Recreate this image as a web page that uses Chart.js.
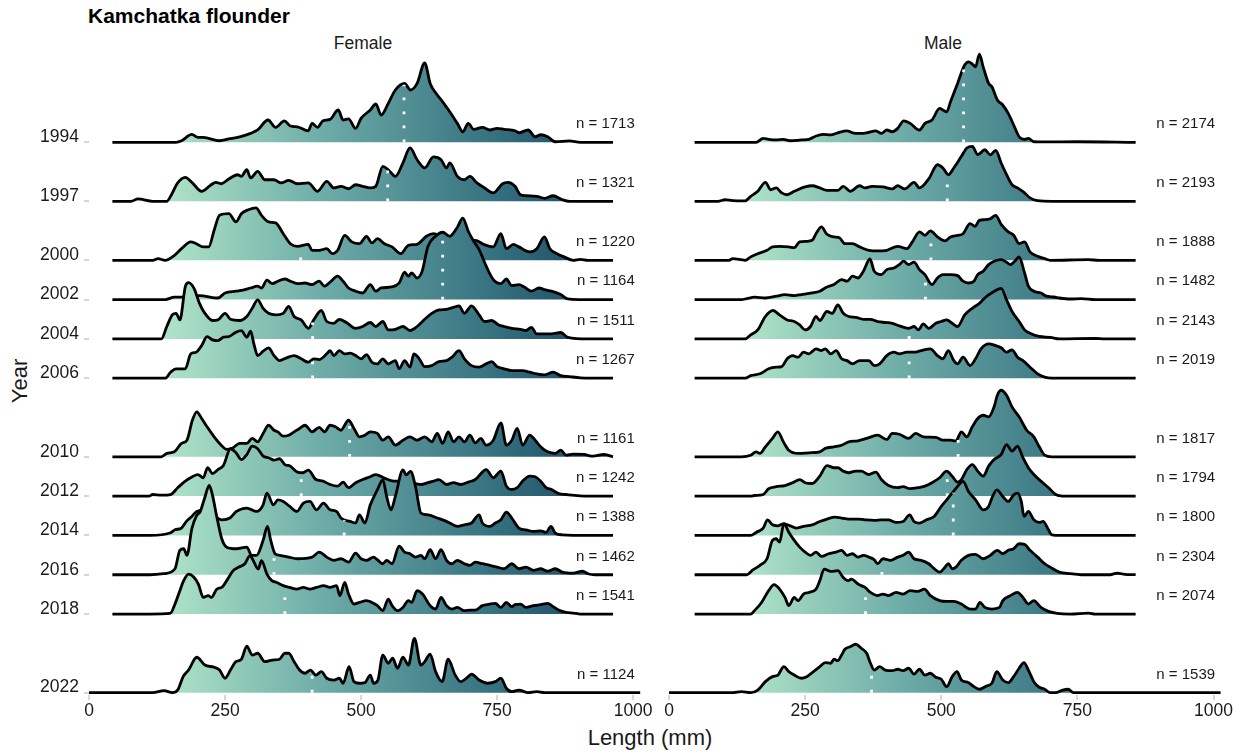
<!DOCTYPE html>
<html lang="en">
<head>
<meta charset="UTF-8" />
<title>Kamchatka flounder — length by year</title>
<script src="https://cdn.jsdelivr.net/npm/chart.js"></script>
<style>
  html, body { margin: 0; padding: 0; background: #fff; }
  body { width: 1243px; height: 755px; position: relative; overflow: hidden;
         font-family: "Liberation Sans", Arial, sans-serif; color: #000; }
  canvas { position: absolute; left: 0; top: 0; }
  .lbl { position: absolute; white-space: nowrap; line-height: 1; }
  #title { left: 88px; top: 5px; font-size: 21px; font-weight: bold; }
  .strip { top: 35px; font-size: 17.5px; color: #1a1a1a; transform: translateX(-50%); }
  #xTitle { left: 650px; top: 727px; font-size: 22px; color: #1a1a1a; transform: translateX(-50%); }
  #yTitle { left: 20px; top: 381px; font-size: 22px; color: #1a1a1a; transform: translate(-50%, -50%) rotate(-90deg); }
</style>
</head>
<body>
<div class="lbl" id="title">Kamchatka flounder</div>
<div class="lbl strip" style="left:363px">Female</div>
<div class="lbl strip" style="left:943px">Male</div>
<div class="lbl" id="xTitle">Length (mm)</div>
<div class="lbl" id="yTitle">Year</div>
<canvas id="femaleChart" width="1243" height="755"></canvas>
<canvas id="maleChart" width="1243" height="755"></canvas>
<script>
// survey years, one ridge per year (top to bottom)
const years = [1994, 1997, 2000, 2002, 2004, 2006, 2010, 2012, 2014, 2016, 2018, 2022];
const lengthTicks = [0, 250, 500, 750, 1000];

// fish measured per year
const femaleN = [1713, 1321, 1220, 1164, 1511, 1267, 1161, 1242, 1388, 1462, 1541, 1124];
const maleN   = [2174, 2193, 1888, 1482, 2143, 2019, 1817, 1794, 1800, 2304, 2074, 1539];

// median length (mm) per year
const femaleMedian = [579, 549, 389, 650, 411, 411, 479, 390, 469, 340, 360, 410];
const maleMedian   = [541, 511, 481, 471, 441, 441, 531, 511, 522, 391, 361, 372];

// length-frequency density curves: [length mm, relative density]
const female1994 = [[43,0],[160,0],[170,0.8],[189,4],[200,2.5],[210,2.5],[240,0.8],[257,1.7],[277,2.8],[297,4.5],[310,6.2],[329,11.2],[343,7.5],[359,10.8],[370,8.2],[383,7.8],[403,5.8],[410,9.5],[420,7.5],[430,10.8],[443,11.5],[458,16.2],[467,11.2],[477,11.8],[490,7],[500,12],[517,16.2],[527,19.2],[537,13.7],[550,19.5],[563,26.2],[580,29.5],[591,26.2],[603,29.5],[617,39.8],[627,29.5],[637,24.8],[650,20.3],[663,15.3],[677,9.5],[687,5.3],[697,9.5],[707,6.5],[723,7.5],[737,6.2],[750,7],[763,6.5],[783,5.8],[790,4.8],[807,6.2],[820,2.8],[830,3.8],[843,2.8],[857,0.3],[883,0.7],[903,0],[963,0]];
const female1997 = [[43,0],[77,0],[90,1.2],[117,0],[143,0],[150,2.5],[163,9.2],[177,12],[190,9.2],[207,5],[223,8],[233,9.5],[243,8.8],[257,11.2],[273,13.3],[280,12.5],[290,15.8],[297,11.7],[310,15],[323,10.8],[340,10.8],[353,9.2],[367,10.5],[383,8.8],[403,9.2],[420,5],[437,10],[450,6.7],[463,7.5],[477,6.3],[490,8.3],[503,7.5],[517,6.7],[527,7.5],[540,17.5],[550,15.8],[563,12.5],[577,19.2],[590,26.7],[603,20.8],[617,16.7],[633,22.2],[647,20.8],[657,16.7],[663,19.2],[677,12.5],[690,10.8],[700,12.5],[713,9.2],[727,6.7],[743,4.2],[760,8.8],[770,9.5],[783,7.5],[793,3.3],[803,2.8],[823,2.5],[837,1.5],[853,2.8],[870,0.8],[883,0],[963,0]];
const female2000 = [[43,0],[117,0],[127,0.8],[140,0],[157,2.5],[170,5.8],[187,9.2],[197,8.3],[210,6.7],[220,6.7],[230,15],[240,22.5],[257,23.3],[270,19.2],[280,23.3],[293,25.3],[307,26.2],[317,22.5],[330,19.2],[343,18.7],[357,13.3],[370,8.3],[383,7],[403,8],[410,5],[423,5],[437,5.8],[447,3.3],[457,5],[470,12.5],[483,9.2],[497,8.3],[510,12],[520,8.7],[530,10.8],[543,8.3],[557,6.7],[573,3.3],[587,7.5],[603,8],[620,12],[633,13.3],[650,12],[670,11],[690,10],[710,10],[725,8],[743,6.7],[757,13.3],[767,5.8],[780,8],[790,6.7],[810,4.2],[823,5.8],[837,11.7],[847,5.8],[860,3.3],[873,1.7],[890,0],[903,0.5],[917,0],[963,0]];
const female2002 = [[43,0],[140,0],[157,1.2],[170,1.2],[183,1.3],[203,2],[237,0.8],[250,3.3],[270,4.2],[283,4.7],[297,5.8],[310,6.7],[317,5.8],[327,9.7],[337,8],[347,9.2],[360,10.3],[370,9.2],[383,8],[397,8.3],[410,7.5],[423,9.2],[433,6.7],[443,8.7],[457,11.7],[467,9.2],[477,5.8],[490,4.2],[503,3.3],[517,7.5],[527,4.2],[537,5.8],[557,6.3],[570,8.3],[580,13.7],[587,11.7],[593,13.3],[603,10.8],[612,14],[623,26.7],[637,31.7],[650,33.7],[663,31.7],[677,36.2],[687,40.8],[697,34.2],[707,29.2],[717,25],[730,16.7],[743,10],[757,8],[767,10.3],[777,7],[790,7.5],[800,6.3],[813,4.2],[827,5.8],[837,5],[850,4.2],[867,2.5],[880,0.3],[900,0],[963,0]];
const female2004 = [[43,0],[133,0],[143,6.2],[153,12],[160,12.8],[167,9.5],[177,26.2],[183,28.2],[193,25.3],[203,17.8],[213,12.8],[227,9.2],[237,9.5],[250,12.8],[260,9.8],[277,9.2],[290,11.2],[300,15.3],[310,19.5],[320,15.3],[330,12.8],[343,12],[357,12.8],[367,16.2],[377,11.2],[390,9.5],[403,5.3],[413,9.5],[427,14.2],[437,8.7],[450,7.8],[460,9.8],[473,8.2],[490,5.3],[503,6.2],[517,8.2],[527,6.2],[540,8.7],[550,4.5],[563,4.8],[577,6.2],[590,4.2],[603,6.2],[617,9.8],[630,12.8],[643,14.5],[657,14.8],[670,15.8],[680,16.5],[690,12.8],[703,16.5],[717,12],[727,8.7],[740,9.2],[753,7],[763,6.2],[777,5.3],[793,4.8],[803,4.2],[813,5.8],[823,2.5],[837,2.5],[850,2.5],[867,3.2],[880,0.8],[917,0],[963,0]];
const female2006 = [[43,0],[140,0],[150,3],[160,4.7],[177,4.7],[187,12.2],[197,13],[207,16.3],[217,20.8],[227,19.2],[237,18.8],[247,20.5],[257,20.8],[270,23],[280,23.8],[290,20.5],[297,23.5],[303,17.2],[310,11.3],[320,13.5],[330,15.2],[340,11.3],[350,8.8],[363,10.2],[377,11.3],[390,9.7],[403,8],[413,9.7],[423,9.3],[437,12.2],[443,13.8],[450,11.3],[460,13.8],[470,12.2],[480,12.5],[490,11.3],[500,9.7],[510,11.8],[520,8],[530,7.2],[540,9.7],[550,7.2],[563,8.8],[570,4.7],[580,8.8],[590,5.5],[597,12.2],[607,9.7],[617,5.8],[630,6.3],[643,8.3],[657,8.8],[667,10.5],[680,13.8],[690,9.7],[703,6.3],[717,5.5],[730,7.2],[740,8.3],[750,5.8],[763,4.7],[777,3.8],[797,3.8],[810,3],[823,2.2],[837,1.7],[853,3],[867,1.3],[883,0.8],[903,0.2],[920,0],[963,0]];
const female2010 = [[43,0],[133,0],[143,1.7],[157,2.5],[170,6.7],[180,8.3],[190,18.3],[198,22.5],[207,19.2],[217,15],[230,10],[243,5.8],[253,3.7],[263,4.2],[277,6.7],[290,6.7],[300,9.2],[310,7.5],[320,11.7],[330,15.8],[340,13.3],[347,12.5],[357,10.3],[367,10.8],[377,12.5],[387,14.2],[397,15.8],[410,12.5],[423,14.7],[433,12.5],[443,15.8],[453,15],[463,13.3],[477,18.3],[487,14.2],[497,10],[507,10.8],[517,12.5],[530,11.7],[540,8.3],[550,10],[563,5.8],[577,8.3],[590,10],[603,8.3],[617,10],[630,7.5],[640,11.7],[650,6.7],[660,12.5],[670,7.5],[680,10],[690,7.5],[700,10.8],[710,7],[720,9.2],[730,5.8],[743,8.3],[757,17],[767,5.8],[777,8.3],[787,14.2],[797,5.8],[810,10.8],[820,8.3],[830,5],[843,2.5],[857,1.7],[867,3.3],[877,0.8],[890,1.3],[910,1.2],[923,0.3],[947,1.2],[963,0]];
const female2012 = [[43,0],[110,0],[117,0.8],[133,0.5],[150,0.8],[163,4.2],[177,7.5],[190,9.7],[200,10.8],[210,9.2],[218,14.2],[227,11.3],[237,13.3],[247,15.3],[260,23.7],[270,21.7],[280,18.3],[290,20.8],[300,25],[310,23.7],[320,20],[330,19.2],[340,18],[350,18.7],[360,15.8],[370,15],[383,12],[393,11.7],[403,13],[417,8.3],[430,7.5],[443,5.8],[457,5],[467,7],[477,4.2],[490,6.7],[503,8.3],[517,9.7],[527,10.8],[543,9],[560,7.5],[580,7.5],[610,5.8],[623,6.7],[633,7.5],[643,8.3],[657,5.8],[670,6.7],[683,5.8],[697,7],[710,8.3],[730,13.3],[743,9.2],[757,12.5],[767,5],[777,3.3],[787,4.2],[797,7.5],[810,10],[820,9.7],[830,7.5],[840,4.2],[850,3.3],[863,1.3],[877,0.8],[917,0],[963,0]];
const female2014 = [[43,0],[112,0],[149,1.2],[158,2.8],[170,3.7],[179,7],[189,9.5],[198,12],[210,12.5],[225,11],[244,7.8],[259,8.7],[271,12],[290,13.7],[308,12],[320,15.3],[327,21.2],[339,15.3],[347,17.8],[357,17],[369,14.5],[382,12],[394,16.2],[406,17],[418,12.8],[431,16.2],[443,12.8],[455,12],[463,8.7],[480,7],[490,6.2],[497,10.3],[507,6.2],[517,15.3],[530,22.8],[540,27.8],[547,19.5],[555,12.8],[563,19.5],[577,32.8],[583,30.3],[591,32],[600,24.5],[610,11.2],[623,10.3],[640,8.7],[650,7.8],[663,6.2],[677,4.5],[690,5.3],[703,6.2],[717,10.3],[723,6.2],[737,4.5],[747,6.2],[757,7.8],[767,11.7],[777,8.7],[790,3.7],[803,2.8],[817,2],[830,2.3],[840,1.5],[849,4.5],[857,1.2],[870,0.3],[917,0],[963,0]];
const female2016 = [[43,0],[112,0],[137,0.5],[158,3],[167,12.2],[174,13],[180,9.7],[189,23],[198,29.7],[204,31.3],[213,38.8],[221,44.7],[227,39.7],[235,28.8],[244,18],[253,13.8],[271,13],[290,13.8],[299,9.7],[308,9.7],[320,17.2],[328,24.2],[334,17.2],[342,10.5],[351,9.7],[367,8.8],[383,8],[410,8.8],[423,11.3],[437,8.8],[450,7.2],[463,8],[477,6.3],[490,10.8],[500,8],[510,7.2],[523,8.8],[530,7.5],[540,5.5],[547,7.2],[557,5.5],[570,14.3],[580,11.3],[590,10.5],[600,8.8],[610,9.7],[617,8],[627,12.5],[637,8],[647,12.5],[657,7.2],[667,5.5],[677,7.2],[690,5.5],[700,4.7],[710,6.3],[723,5.5],[737,4.7],[750,3.8],[763,3],[777,5.5],[790,3],[803,3.8],[817,2.2],[830,3],[843,1.8],[857,3],[870,1.3],[890,0.8],[907,1.8],[917,0.5],[930,0],[963,0]];
const female2018 = [[43,0],[112,0],[149,0.3],[158,5],[167,11.7],[174,16.7],[183,20],[192,18.7],[201,15],[210,8.3],[219,9.2],[225,8.3],[235,12.5],[244,13.3],[253,16.7],[265,21.7],[274,23.3],[286,25],[296,29.2],[302,26.7],[311,22.5],[317,26.7],[327,20],[336,16.7],[345,15.8],[357,14.2],[369,13.3],[382,12.5],[394,13.3],[406,12.5],[418,13.3],[431,14.2],[443,13.3],[455,14.2],[461,9.2],[470,15.8],[477,10],[487,5],[497,5.8],[510,6.7],[520,5.8],[530,4.2],[540,1.7],[550,7.5],[557,4.2],[567,1.7],[577,3.3],[587,6.7],[593,5.8],[603,11.7],[613,10],[627,4.2],[637,2.5],[647,8.3],[657,4.2],[667,2.5],[677,3.3],[690,1.7],[700,2],[710,2],[723,4.2],[737,5],[747,5.3],[757,3.3],[767,5.8],[777,3.7],[783,4.7],[793,5],[803,3.3],[817,4.2],[830,4.7],[843,5.3],[853,3.7],[863,2],[877,0.8],[890,0.5],[903,0],[963,0]];
const female2022 = [[0,0],[117,0],[138,1],[153,0],[163,1.3],[173,8],[183,11.3],[198,17.7],[213,13.8],[230,12.7],[240,11.3],[250,7.2],[260,11.3],[270,15.5],[280,16.7],[290,23.3],[300,18.8],[310,19.7],[323,15.5],[337,16.3],[350,16.7],[360,19.7],[367,19.7],[377,15.5],[387,11.3],[397,9.7],[407,11.3],[417,8.8],[427,10.5],[437,7.2],[450,6.3],[460,7.2],[467,4.7],[478,13],[487,5.5],[497,4.7],[507,5],[517,8.8],[523,4.7],[531,6.3],[540,18.8],[550,14.7],[558,17.2],[567,12.2],[577,17.7],[587,13.8],[598,27.2],[610,13.8],[617,15.5],[627,19.3],[637,10.5],[649,5.5],[660,16.7],[673,8.8],[683,5.5],[697,8],[703,9.3],[717,6.3],[733,4.7],[747,5.5],[757,7.2],[767,2.2],[777,0.5],[790,1.3],[807,0],[823,0.5],[837,0],[1013,0]];

const male1994 = [[47,0],[160,0],[173,2],[183,1.5],[197,1.2],[210,1.5],[223,0.8],[243,1.2],[257,1.5],[270,3.2],[283,4],[297,3.7],[310,4.8],[327,5.8],[337,4.8],[350,4.5],[363,4.8],[380,5.8],[390,4.5],[400,6.2],[410,5.3],[420,7],[431,10.8],[443,9.5],[460,6.2],[470,9.5],[483,11.2],[497,17],[503,16.2],[510,15.3],[517,20.3],[530,29.5],[543,38.7],[550,40.3],[557,39.2],[563,37.8],[570,44.2],[577,37.8],[587,29.5],[593,27.8],[603,21.2],[613,18.7],[623,14.5],[633,8.7],[643,2.8],[653,1.5],[660,2],[670,0.3],[690,0.2],[750,0.3],[857,0]];
const male1997 = [[47,0],[90,0],[103,0.8],[117,0.3],[140,0.2],[150,2.5],[163,5],[177,9.5],[187,5.8],[197,6.7],[207,4.2],[217,3.3],[230,5],[250,7.2],[263,7.8],[277,6.7],[290,5.5],[310,5.5],[320,7.5],[333,5],[350,7.8],[360,6.7],[373,7.5],[393,7.2],[410,6.2],[420,7.8],[433,6.2],[450,9.5],[460,6.7],[477,11.2],[493,18.3],[503,16.7],[513,13.3],[523,16.7],[537,22.5],[547,26.7],[557,27.5],[567,23.3],[580,25.8],[590,23.3],[600,25.5],[610,19.2],[620,13.3],[630,8.3],[640,6.7],[653,4.2],[663,1.7],[677,0.3],[703,0],[857,0]];
const male2000 = [[47,0],[110,0],[117,0.8],[140,0],[150,1.7],[163,3.3],[180,5],[190,6.7],[203,7],[220,6.7],[230,6.3],[240,9.2],[253,9.5],[263,10],[270,13.3],[280,16.7],[290,13],[303,11.7],[313,11.3],[323,8.3],[337,8.3],[350,6.7],[367,5],[383,4.7],[400,5],[420,7],[437,5.8],[447,9.2],[460,14.2],[470,12.5],[480,14.7],[493,11.7],[507,9.7],[517,11.7],[530,12.5],[540,13.3],[553,18.3],[562,17],[570,20],[580,20.3],[590,20.8],[600,22.5],[610,18],[623,14.2],[633,12.5],[643,8.3],[653,9.2],[663,4.2],[677,2],[690,0.8],[700,0],[770,0.3],[790,0],[857,0]];
const male2002 = [[47,0],[133,0],[143,0.5],[157,1.2],[177,0.8],[197,1.7],[213,2.5],[230,2],[243,2.5],[263,3.3],[277,4.2],[290,6.3],[303,7.5],[317,10],[327,9.2],[337,11.7],[347,10.8],[357,14.2],[369,20.3],[377,14.2],[390,12.5],[400,15],[413,15.8],[423,17.5],[431,19.2],[440,17.5],[450,18.7],[460,15],[470,12.5],[483,7.5],[493,10.8],[503,12.5],[517,12.5],[530,12],[540,9.2],[550,8.3],[560,9.2],[567,12.5],[577,14.2],[587,17.5],[597,19.2],[610,20],[620,18.7],[627,17.5],[635,19.2],[643,21.3],[653,13.3],[660,6.7],[670,4.2],[683,3.3],[693,1.7],[707,1.3],[717,0.8],[737,0.3],[757,0.5],[783,0],[857,0]];
const male2004 = [[47,0],[140,0],[150,2],[163,4.5],[177,11.2],[191,14.2],[203,12],[217,9.5],[230,8.7],[240,7],[250,4.5],[260,6.2],[270,11.2],[277,9.2],[290,13.7],[300,12.8],[310,17],[320,12.8],[330,11.2],[343,10.8],[357,9.8],[370,9.8],[383,8.7],[397,8.2],[410,7.8],[423,6.5],[440,5.3],[450,6.2],[458,4.5],[467,7.5],[477,5.3],[490,7.8],[500,8.7],[510,9.5],[520,7.8],[530,6.2],[543,12],[557,15.3],[570,17.8],[583,21.2],[597,23.7],[610,25.3],[620,19.5],[630,13.7],[643,8.7],[653,4.5],[663,2.8],[680,1.2],[700,0.8],[717,0],[783,0.2],[800,0],[857,0]];
const male2006 = [[47,0],[140,0],[150,1.3],[167,2.2],[183,4.7],[197,5.5],[207,5.8],[217,9.7],[227,11.3],[237,10.5],[247,13],[257,12.2],[270,14.7],[280,13.8],[287,14.7],[297,12.2],[307,13.8],[317,9.7],[327,8.8],[337,7.2],[350,8.8],[367,8.8],[377,6.3],[387,7.2],[400,11.3],[413,13],[423,12.2],[437,13],[450,13],[463,13.8],[480,14.7],[493,11.3],[503,9.7],[513,13.8],[523,8.8],[530,7.2],[540,10.5],[553,6.3],[563,9.7],[573,14.7],[587,17.2],[600,16.3],[610,15.2],[620,13],[630,14.2],[640,10.5],[650,8.8],[663,5.5],[677,2.2],[690,0.5],[703,0],[857,0]];
const male2010 = [[47,0],[133,0],[150,0.8],[160,2.5],[167,1.7],[177,5],[190,9.2],[200,12.5],[210,7.5],[220,3.3],[237,1.7],[257,2],[277,2.5],[287,4.2],[303,5],[317,5.8],[330,7.5],[347,8],[363,9.2],[383,10.8],[400,8.7],[410,11.7],[423,11.3],[440,9.2],[453,11.7],[467,10],[490,9.7],[503,8.3],[517,8.3],[527,8],[537,12.5],[547,10],[557,15],[567,19.2],[577,20.8],[587,20],[597,25],[603,30.8],[610,33.3],[620,30.8],[630,25],[643,20],[657,13.3],[670,10],[680,5],[690,0.8],[703,0],[857,0]];
const male2012 = [[47,0],[150,0],[157,0.3],[173,0.8],[183,3.7],[197,4.7],[213,5.3],[227,6.7],[240,8.3],[250,6.7],[263,6.3],[277,10],[290,15.3],[303,14.2],[310,14.2],[320,12.5],[330,11.7],[343,12.5],[353,12.5],[367,10.8],[380,12],[390,8.3],[403,5.3],[420,4.2],[430,4.7],[443,3.7],[457,4.2],[470,5],[483,6.7],[497,9.2],[510,12.5],[520,10],[530,7],[537,8.3],[547,13.3],[557,15.8],[567,12.5],[577,10],[587,15],[597,18.3],[610,20.8],[620,25.8],[630,22.5],[640,25],[650,19.2],[660,14.2],[670,10.8],[683,7.5],[697,4.2],[710,0.8],[723,0],[857,0]];
const male2014 = [[47,0],[150,0],[160,1.5],[173,3.7],[181,7.8],[190,5.3],[200,4.8],[210,5.8],[223,4.8],[233,3.7],[247,4.5],[263,5.3],[277,7],[290,8.2],[305,9.2],[317,8.7],[330,8.2],[347,8.2],[360,7.8],[377,7.5],[390,7.8],[403,7.8],[417,6.5],[430,7],[442,10.3],[450,7],[460,6.2],[473,7.8],[487,9.5],[500,14.5],[510,17.8],[520,21.2],[530,24.5],[540,27],[550,22],[563,17.8],[577,12.8],[587,14.5],[593,18.7],[602,22.8],[613,19.5],[623,17],[633,20.3],[640,21.2],[647,17],[652,9.5],[660,12],[670,7.8],[680,6.5],[687,7],[697,2.8],[703,0.3],[720,0],[857,0]];
const male2016 = [[47,0],[143,0],[153,2.2],[167,4.7],[180,8],[190,17.2],[197,18],[203,16.3],[211,25.5],[220,21.3],[230,17.2],[240,13.8],[250,11.3],[260,9.7],[270,11.3],[280,9.2],[293,10.5],[307,11.3],[317,12.2],[327,9.7],[337,10.5],[347,8.8],[357,9.7],[367,8.8],[377,7.5],[383,5.5],[393,8],[407,7.2],[420,8.8],[430,9.7],[440,11.3],[450,8],[463,7.2],[477,5.5],[487,3],[497,1.3],[507,3.8],[513,5.5],[520,3],[527,3.8],[537,7.2],[550,9.7],[563,10.2],[577,8],[590,9.7],[603,12.2],[613,10.5],[623,12.2],[633,13],[643,15.5],[653,15.2],[663,12.2],[677,8.8],[690,5.5],[700,3.8],[717,1.3],[737,0.5],[757,0],[810,0],[823,0.8],[837,0.2],[857,0]];
const male2018 = [[47,0],[150,0],[157,1.7],[170,5.8],[183,11.7],[193,14.7],[203,12.5],[213,8.3],[220,4.2],[230,8.3],[237,6.7],[247,10],[257,10.8],[270,12.5],[277,16.7],[285,22.5],[297,21.3],[310,21.7],[320,18.3],[329,16.7],[335,17.5],[347,15],[360,13.3],[370,10.8],[383,9.2],[393,10],[403,9.2],[417,10.8],[430,10],[443,11.7],[457,11.3],[469,12.5],[480,9.2],[497,6.7],[510,6.3],[523,6.3],[537,5],[553,2.5],[563,2.5],[571,5.8],[580,3.3],[593,2.5],[607,3.3],[613,6.7],[627,9.2],[640,10.8],[650,8.3],[660,5],[670,6.7],[683,3.3],[697,1.3],[713,0.3],[737,0],[770,0.5],[783,0],[857,0]];
const male2022 = [[0,0],[117,0],[133,0.5],[150,0],[163,1.3],[177,5.5],[190,8],[200,8.8],[211,13],[220,10.5],[230,8.8],[243,7.2],[253,8],[263,10],[277,13],[287,15],[297,14.7],[303,16.7],[310,16],[317,18.8],[323,21.7],[333,23],[343,24.2],[353,22.2],[363,19.7],[370,14.7],[377,11.3],[387,13],[397,11.3],[410,11],[420,11.7],[430,11],[440,12.2],[450,9.3],[460,11.7],[470,8.8],[480,9.7],[490,7.7],[500,6.7],[510,3],[520,8],[529,10.5],[537,6.3],[550,5],[560,3],[570,1.7],[583,3.3],[593,4.7],[602,10.5],[613,6.3],[623,5],[633,8],[643,12.2],[652,15],[660,11.3],[670,5.5],[680,2.7],[690,1.7],[700,0],[710,0],[723,1.3],[733,1.7],[743,0],[1013,0]];

const femaleCurves = [female1994, female1997, female2000, female2002, female2004, female2006,
                      female2010, female2012, female2014, female2016, female2018, female2022];
const maleCurves = [male1994, male1997, male2000, male2002, male2004, male2006,
                    male2010, male2012, male2014, male2016, male2018, male2022];

// ---- drawing setup ----
const FONT = '"Liberation Sans", Arial, sans-serif';
const TEXT = '#1a1a1a';
const RIDGE_SCALE = 0.1017;            // years of vertical room per density unit
const YEAR_TOP = 1989.3, YEAR_BOTTOM = 2022.12;
const LEN_MAX = 1020;
// fill colour runs with length: pale mint for small fish to deep teal for large ones
const fillStops = [[0, '#c4f0d8'], [150, '#ade2c7'], [450, '#69a8a5'], [750, '#35707f'], [900, '#1f5068'], [1000, '#18425c']];

function densityAt(curve, len) {
  for (let i = 1; i < curve.length; i++) {
    const [x0, d0] = curve[i - 1], [x1, d1] = curve[i];
    if (len <= x1) return d0 + (d1 - d0) * (len - x0) / (x1 - x0);
  }
  return 0;
}

function lengthGradient(chart) {
  const { ctx, chartArea, scales } = chart;
  if (!chartArea) return '#69a8a5';
  const x0 = scales.x.getPixelForValue(0), x1 = scales.x.getPixelForValue(1000);
  const g = ctx.createLinearGradient(x0, 0, x1, 0);
  fillStops.forEach(([len, c]) => g.addColorStop(len / 1000, c));
  return g;
}

function ridgeDatasets(curves, medians) {
  const sets = [];
  const n = years.length;
  years.forEach((year, i) => {
    const curve = curves[i];
    // later years sit lower and are painted over the ones above them
    sets.push({
      data: curve.map(([len, d]) => ({ x: len, y: year - d * RIDGE_SCALE })),
      fill: { value: year },
      backgroundColor: (c) => lengthGradient(c.chart),
      borderColor: '#000',
      borderWidth: 2.8,
      borderJoinStyle: 'round',
      cubicInterpolationMode: 'monotone',
      pointRadius: 0,
      order: 2 * (n - i)
    });
    // dotted median line from the baseline up to the curve
    const m = medians[i];
    const top = Math.max(densityAt(curve, m) - 0.5, 0);
    sets.push({
      data: [{ x: m, y: year }, { x: m, y: year - top * RIDGE_SCALE }],
      borderColor: '#fff',
      borderWidth: 2.8,
      borderDash: [2.8, 11.2],
      borderCapStyle: 'butt',
      fill: false,
      pointRadius: 0,
      order: 2 * (n - i) - 1
    });
  });
  return sets;
}

const countLabels = {
  id: 'countLabels',
  afterDatasetsDraw(chart, args, opts) {
    const { ctx, scales: { x, y } } = chart;
    ctx.save();
    ctx.font = '15px ' + FONT;
    ctx.fillStyle = TEXT;
    ctx.textAlign = 'right';
    ctx.textBaseline = 'middle';
    opts.counts.forEach((cnt, i) => {
      ctx.fillText('n = ' + cnt, x.getPixelForValue(1003), y.getPixelForValue(years[i] - 0.93));
    });
    ctx.restore();
  }
};

const tickMarks = { display: true, drawOnChartArea: false, drawTicks: true, tickLength: 5, color: '#d6d6d6', lineWidth: 2 };

function ridgeChart(id, curves, medians, counts, showYears, padding) {
  return new Chart(document.getElementById(id), {
    type: 'line',
    data: { datasets: ridgeDatasets(curves, medians) },
    plugins: [countLabels],
    options: {
      responsive: false,
      animation: false,
      events: [],
      layout: { padding },
      plugins: {
        legend: { display: false },
        tooltip: { enabled: false },
        countLabels: { counts }
      },
      scales: {
        x: {
          type: 'linear', min: 0, max: LEN_MAX,
          afterBuildTicks: (s) => { s.ticks = lengthTicks.map(v => ({ value: v })); },
          afterFit: (s) => { s.height = 60; },
          grid: tickMarks,
          border: { display: false },
          ticks: { padding: 1, maxRotation: 0, autoSkip: false, color: TEXT,
                   font: { family: FONT, size: 17.5 }, callback: (v) => String(v) }
        },
        y: {
          type: 'linear', reverse: true, min: YEAR_TOP, max: YEAR_BOTTOM,
          display: showYears,
          afterBuildTicks: (s) => { s.ticks = years.map(v => ({ value: v })); },
          afterFit: (s) => { s.width = showYears ? 89 : 0; },
          grid: tickMarks,
          border: { display: false },
          ticks: { padding: 5, labelOffset: -5, autoSkip: false, color: TEXT,
                   font: { family: FONT, size: 17.5 }, callback: (v) => String(v) }
        }
      }
    }
  });
}

ridgeChart('femaleChart', femaleCurves, femaleMedian, femaleN, true,
           { left: 0, top: 50, right: 599, bottom: 0 });
ridgeChart('maleChart', maleCurves, maleMedian, maleN, false,
           { left: 669, top: 50, right: 18.6, bottom: 0 });
</script>
</body>
</html>
